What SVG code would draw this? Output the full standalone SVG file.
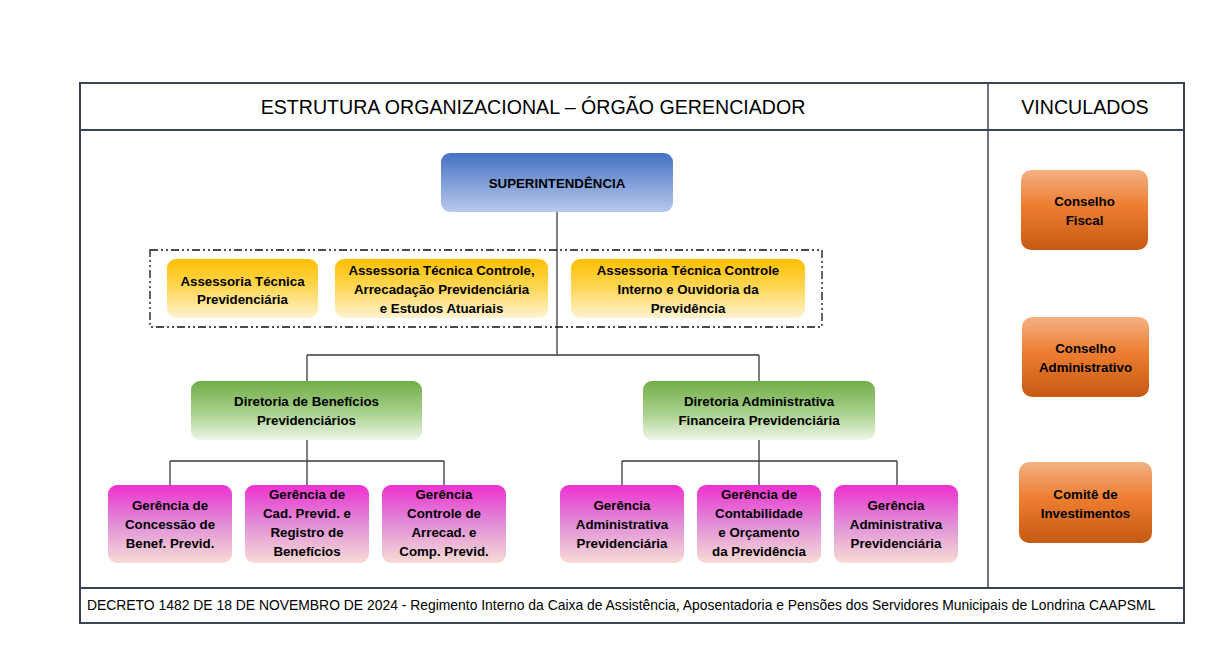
<svg xmlns="http://www.w3.org/2000/svg" width="1221" height="661" viewBox="0 0 1221 661">
<defs>
<linearGradient id="gBlue" x1="0" y1="0" x2="0" y2="1"><stop offset="0" stop-color="#4472c4"/><stop offset="1" stop-color="#b9c9ec"/></linearGradient>
<linearGradient id="gYel" x1="0" y1="0" x2="0" y2="1"><stop offset="0" stop-color="#ffc000"/><stop offset="0.5" stop-color="#ffd85a"/><stop offset="1" stop-color="#fff3d0"/></linearGradient>
<linearGradient id="gGrn" x1="0" y1="0" x2="0" y2="1"><stop offset="0" stop-color="#70ad47"/><stop offset="0.55" stop-color="#a9d18e"/><stop offset="1" stop-color="#eef6e8"/></linearGradient>
<linearGradient id="gPnk" x1="0" y1="0" x2="0" y2="1"><stop offset="0" stop-color="#ee30cf"/><stop offset="0.5" stop-color="#e08fd8"/><stop offset="1" stop-color="#f8dcd4"/></linearGradient>
<linearGradient id="gOrg" x1="0" y1="0" x2="0" y2="1"><stop offset="0" stop-color="#f4b183"/><stop offset="0.45" stop-color="#ed7d31"/><stop offset="1" stop-color="#c55a11"/></linearGradient>
</defs>
<style>
.t{font-family:"Liberation Sans",Arial,sans-serif;fill:#000;text-anchor:middle}
.b{font-weight:bold;font-size:13.3px}
.h{font-size:19.6px}
.f{font-size:13.9px;text-anchor:start}
.ln{stroke:#3a3a3a;stroke-width:1.3;fill:none}
.tb{stroke:#3b4454;stroke-width:2;fill:none}
</style>
<rect width="1221" height="661" fill="#fff"/>
<g id="table">
<rect class="tb" x="80" y="83" width="1104" height="540"/>
<line class="tb" x1="80" y1="130" x2="1184" y2="130"/>
<line class="tb" x1="80" y1="588" x2="1184" y2="588"/>
<line class="tb" x1="988" y1="83" x2="988" y2="588" style="stroke-width:1.5"/>
<text class="t h" x="533" y="114">ESTRUTURA ORGANIZACIONAL – ÓRGÃO GERENCIADOR</text>
<text class="t h" x="1085" y="114">VINCULADOS</text>
<text class="t f" x="87" y="610">DECRETO 1482 DE 18 DE NOVEMBRO DE 2024 - Regimento Interno da Caixa de Assistência, Aposentadoria e Pensões dos Servidores Municipais de Londrina CAAPSML</text>
</g>
<g id="connectors">
<path class="ln" d="M557 212V355M307 355H759M307 355V381M759 355V381"/>
<path class="ln" d="M307 440V461M170 461H444M170 461V485M307 461V485M444 461V485"/>
<path class="ln" d="M759 440V461M622 461H897M622 461V485M759 461V485M897 461V485"/>
<rect x="150" y="250" width="672" height="77" fill="none" stroke="#111" stroke-width="1.3" stroke-dasharray="8 3 2 3 2 3"/>
</g>
<g id="superintendencia"><rect x="441" y="153" width="232" height="59" rx="9" fill="url(#gBlue)"/><text class="t b" x="557" y="188">SUPERINTENDÊNCIA</text></g>
<g id="assessoria1"><rect x="167" y="259" width="151" height="59" rx="9" fill="url(#gYel)"/><text class="t b" x="242.5" y="286">Assessoria Técnica</text><text class="t b" x="242.5" y="304">Previdenciária</text></g>
<g id="assessoria2"><rect x="335" y="259" width="213" height="59" rx="9" fill="url(#gYel)"/><text class="t b" x="441.5" y="275">Assessoria Técnica Controle,</text><text class="t b" x="441.5" y="294">Arrecadação Previdenciária</text><text class="t b" x="441.5" y="313">e Estudos Atuariais</text></g>
<g id="assessoria3"><rect x="571" y="259" width="234" height="59" rx="9" fill="url(#gYel)"/><text class="t b" x="688" y="275">Assessoria Técnica Controle</text><text class="t b" x="688" y="294">Interno e Ouvidoria da</text><text class="t b" x="688" y="313">Previdência</text></g>
<g id="diretoria1"><rect x="191" y="381" width="231" height="59" rx="9" fill="url(#gGrn)"/><text class="t b" x="306.5" y="406">Diretoria de Benefícios</text><text class="t b" x="306.5" y="425">Previdenciários</text></g>
<g id="diretoria2"><rect x="643" y="381" width="232" height="59" rx="9" fill="url(#gGrn)"/><text class="t b" x="759" y="406">Diretoria Administrativa</text><text class="t b" x="759" y="425">Financeira Previdenciária</text></g>
<g id="gerencia1"><rect x="108" y="485" width="124" height="78" rx="9" fill="url(#gPnk)"/><text class="t b" x="170" y="510">Gerência de</text><text class="t b" x="170" y="529">Concessão de</text><text class="t b" x="170" y="548">Benef. Previd.</text></g>
<g id="gerencia2"><rect x="245" y="485" width="124" height="78" rx="9" fill="url(#gPnk)"/><text class="t b" x="307" y="499">Gerência de</text><text class="t b" x="307" y="518">Cad. Previd. e</text><text class="t b" x="307" y="537">Registro de</text><text class="t b" x="307" y="556">Benefícios</text></g>
<g id="gerencia3"><rect x="382" y="485" width="124" height="78" rx="9" fill="url(#gPnk)"/><text class="t b" x="444" y="499">Gerência</text><text class="t b" x="444" y="518">Controle de</text><text class="t b" x="444" y="537">Arrecad. e</text><text class="t b" x="444" y="556">Comp. Previd.</text></g>
<g id="gerencia4"><rect x="560" y="485" width="124" height="78" rx="9" fill="url(#gPnk)"/><text class="t b" x="622" y="510">Gerência</text><text class="t b" x="622" y="529">Administrativa</text><text class="t b" x="622" y="548">Previdenciária</text></g>
<g id="gerencia5"><rect x="697" y="485" width="124" height="78" rx="9" fill="url(#gPnk)"/><text class="t b" x="759" y="499">Gerência de</text><text class="t b" x="759" y="518">Contabilidade</text><text class="t b" x="759" y="537">e Orçamento</text><text class="t b" x="759" y="556">da Previdência</text></g>
<g id="gerencia6"><rect x="834" y="485" width="124" height="78" rx="9" fill="url(#gPnk)"/><text class="t b" x="896" y="510">Gerência</text><text class="t b" x="896" y="529">Administrativa</text><text class="t b" x="896" y="548">Previdenciária</text></g>
<g id="conselhoFiscal"><rect x="1021" y="170" width="127" height="80" rx="10" fill="url(#gOrg)"/><text class="t b" x="1084.5" y="206">Conselho</text><text class="t b" x="1084.5" y="225">Fiscal</text></g>
<g id="conselhoAdm"><rect x="1022" y="317" width="127" height="80" rx="10" fill="url(#gOrg)"/><text class="t b" x="1085.5" y="353">Conselho</text><text class="t b" x="1085.5" y="372">Administrativo</text></g>
<g id="comite"><rect x="1019" y="462" width="133" height="81" rx="10" fill="url(#gOrg)"/><text class="t b" x="1085.5" y="499">Comitê de</text><text class="t b" x="1085.5" y="518">Investimentos</text></g>
</svg>
